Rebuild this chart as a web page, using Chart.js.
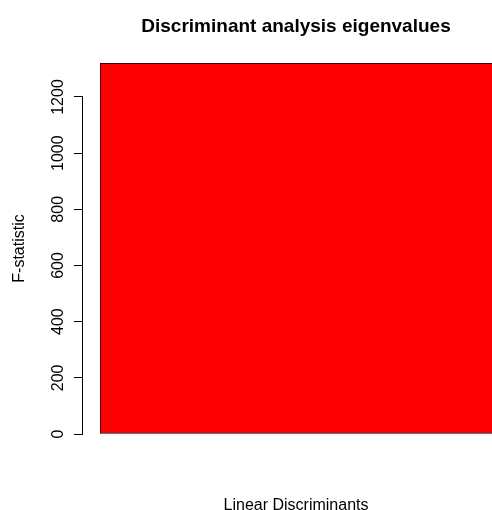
<!DOCTYPE html>
<html>
<head>
<meta charset="utf-8">
<title>Discriminant analysis eigenvalues</title>
<script src="https://cdn.jsdelivr.net/npm/chart.js@4.4.1/dist/chart.umd.min.js"></script>
<style>
  html, body { margin: 0; padding: 0; background: #fff; }
  #wrap { width: 492px; height: 510px; position: relative; }
</style>
</head>
<body>
<div id="wrap"><canvas id="chart"></canvas></div>
<script>
/* Valores */
const CATEGORIES = ["LD1"];
const F_VALUES = [1321];
const Y_STEP = 200;

const BAR_COLOR = "#ff0000";
const INK = "#000000";

Chart.defaults.font.family = "'Liberation Sans', Arial, sans-serif";
Chart.defaults.color = INK;

// linha do eixo y só entre o primeiro e o último tick, estilo R
const axisLine = {
  id: "axisLine",
  afterDraw(chart) {
    const s = chart.scales.y;
    const ticks = s.ticks;
    if (!ticks.length) return;
    const ctx = chart.ctx;
    const top = s.getPixelForValue(ticks[ticks.length - 1].value);
    const bottom = s.getPixelForValue(ticks[0].value);
    const x = Math.round(s.right) - 0.5;
    ctx.save();
    ctx.strokeStyle = INK;
    ctx.lineWidth = 1;
    ctx.beginPath();
    ctx.moveTo(x, Math.round(bottom) + 0.5);
    ctx.lineTo(x, Math.round(top) - 0.5);
    ctx.stroke();
    ctx.restore();
  },
};

const ctx = document.getElementById("chart").getContext("2d");
new Chart(ctx, {
  type: "bar",
  data: {
    labels: CATEGORIES,
    datasets: [
      {
        data: F_VALUES,
        yAxisID: "y",
        backgroundColor: BAR_COLOR,
        borderColor: INK,
        borderWidth: { top: 1, left: 1, bottom: 1, right: 0 },
        borderSkipped: false,
        barPercentage: 1,
        categoryPercentage: 1,
      },
    ],
  },
  options: {
    responsive: true,
    maintainAspectRatio: false,
    animation: false,
    layout: { padding: 0 },
    plugins: {
      legend: { display: false },
      tooltip: { enabled: false },
      title: {
        display: true,
        text: "Discriminant analysis eigenvalues",
        fullSize: false,
        color: INK,
        font: { size: 19, weight: "bold", lineHeight: 1.2 },
        padding: { top: 15.5, bottom: 24.7 },
      },
    },
    scales: {
      x: {
        type: "category",
        ticks: { display: false },
        grid: { display: false, drawTicks: false },
        border: { display: false },
        title: {
          display: true,
          text: "Linear Discriminants",
          color: INK,
          font: { size: 16, lineHeight: 0.6 },
          padding: 0,
        },
        afterFit: (scale) => {
          scale.height = 76;
        },
      },
      y: {
        type: "linear",
        position: "left",
        weight: 1,
        min: 0,
        max: Math.max(...F_VALUES),
        border: { display: false },
        grid: {
          drawOnChartArea: false,
          drawTicks: true,
          tickLength: 9,
          color: INK,
          lineWidth: 1,
        },
        ticks: {
          stepSize: Y_STEP,
          includeBounds: false,
          minRotation: 90,
          maxRotation: 90,
          crossAlign: "center",
          padding: -2,
          color: INK,
          font: { size: 16 },
          callback: (value) => String(value),
        },
        title: {
          display: true,
          text: "F-statistic",
          color: INK,
          font: { size: 16, lineHeight: 1.2 },
          padding: { top: 10, bottom: 0 },
        },
        afterFit: (scale) => {
          scale.width = 83;
        },
      },
      gap: {
        type: "linear",
        position: "left",
        weight: 0,
        min: 0,
        max: 1,
        ticks: { display: false },
        grid: { display: false, drawTicks: false },
        border: { display: false },
        afterFit: (scale) => {
          scale.width = 17;
        },
      },
    },
  },
  plugins: [axisLine],
});
</script>
</body>
</html>
